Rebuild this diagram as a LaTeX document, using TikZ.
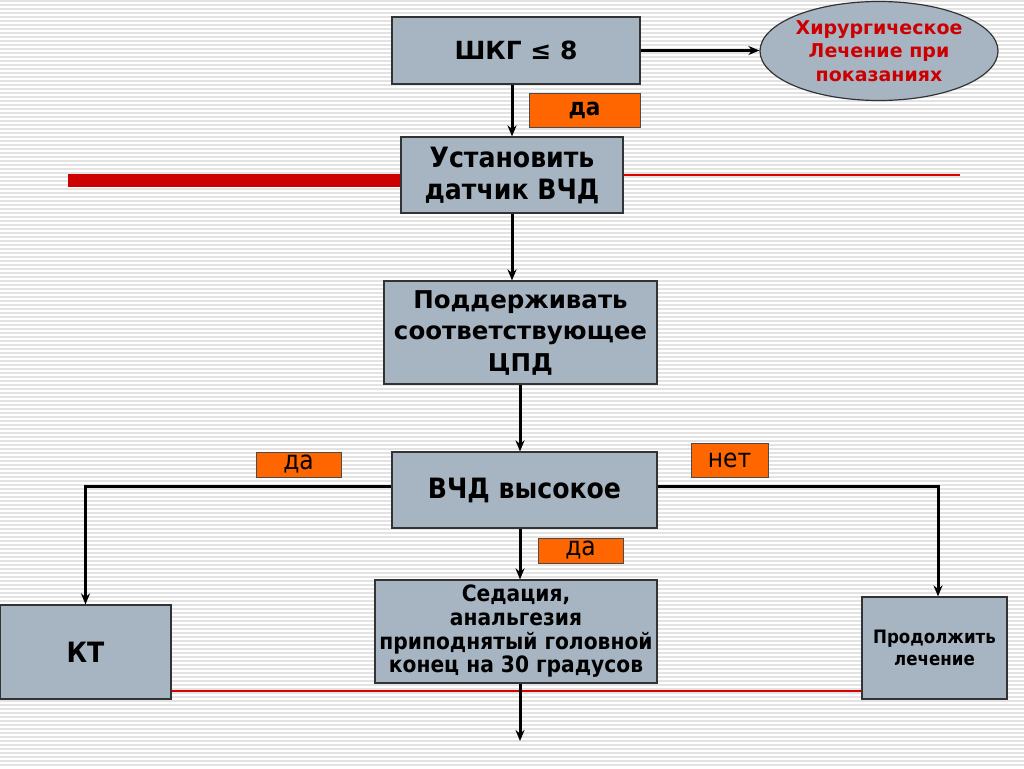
\documentclass[tikz,border=0pt]{standalone}
\usepackage{fontspec}
\setmainfont{DejaVu Sans}
\newfontfamily\condf{DejaVu Sans Condensed}
\usetikzlibrary{shapes.geometric,arrows.meta}
\definecolor{boxfill}{HTML}{A7B5C3}
\definecolor{orng}{HTML}{FF6600}
\definecolor{redd}{HTML}{CC0000}
\tikzset{
  box/.style={draw=black!80, line width=1.2pt, fill=boxfill, align=center, inner sep=0pt},
  tag/.style={draw=black!70, line width=1pt, fill=orng, inner sep=0pt, font=\condf\fontsize{26}{28}\selectfont},
  conn/.style={line width=3pt, -{Stealth[length=11pt,width=9pt]}},
}
\begin{document}
\begin{tikzpicture}[x=1pt,y=-1pt]
\useasboundingbox (0,0) rectangle (1024,768);
\fill[white] (0,0) rectangle (1024,768);
\foreach \i in {1,5,...,768} \draw[black!11, line width=2pt] (0,\i) -- (1024,\i);
% red lines
\fill[redd] (68,174) rectangle (401,187);
\draw[red!85!black, line width=1.3pt] (623,175) -- (960,175);
\draw[red!85!black, line width=1.3pt] (171,691) -- (862,691);
% nodes
\node[box, minimum width=248pt, minimum height=67pt, font=\bfseries\fontsize{25}{29}\selectfont] (shkg) at (516,50.5) {ШКГ ≤ 8};
\node[ellipse, draw=black!80, line width=1.2pt, fill=boxfill, minimum width=238pt, minimum height=99pt, inner sep=0pt, align=center, text=redd, font=\bfseries\fontsize{19}{23.5}\selectfont] (surg) at (879,51) {Хирургическое\\Лечение при\\показаниях};
\node[box, minimum width=222pt, minimum height=76pt, font=\condf\bfseries\fontsize{28}{32}\selectfont] (sensor) at (512,175) {Установить\\датчик ВЧД};
\node[box, minimum width=273pt, minimum height=103pt, font=\bfseries\fontsize{24.5}{31.5}\selectfont] (cpd) at (520.5,332.5) {Поддерживать\\соответствующее\\ЦПД};
\node[box, minimum width=265pt, minimum height=76pt, font=\condf\bfseries\fontsize{28}{32}\selectfont] (icp) at (524.5,490) {ВЧД высокое};
\node[box, minimum width=282pt, minimum height=103pt, font=\condf\bfseries\fontsize{22.5}{23.7}\selectfont] (sed) at (516,631.5) {Седация,\\анальгезия\\приподнятый головной\\конец на 30 градусов};
\node[box, minimum width=171pt, minimum height=94pt, font=\condf\bfseries\fontsize{28}{30}\selectfont] (kt) at (85.5,652) {КТ};
\node[box, minimum width=145pt, minimum height=102pt, font=\condf\bfseries\fontsize{18.5}{22}\selectfont] (cont) at (934.5,648) {Продолжить\\лечение};
% tags
\node[tag, minimum width=111pt, minimum height=34pt, font=\condf\bfseries\fontsize{24}{26}\selectfont] (t1) at (584.5,110) {да};
\node[tag, minimum width=85pt, minimum height=25pt] (t2) at (298.5,464.5) {да};
\node[tag, minimum width=77pt, minimum height=34pt] (t3) at (729.5,460) {нет};
\node[tag, minimum width=85pt, minimum height=25pt] (t4) at (580.5,550.5) {да};
% connectors
\coordinate (endp) at (520,741);
\draw[conn] (shkg.east) -- (shkg.east -| surg.west);
\draw[conn] (shkg.south -| 512,0) -- (sensor.north -| 512,0);
\draw[conn] (sensor.south -| 512,0) -- (cpd.north -| 512,0);
\draw[conn] (cpd.south -| 520,0) -- (icp.north -| 520,0);
\draw[conn] (icp.west |- 0,486) -| (kt.north);
\draw[conn] (icp.east |- 0,486) -| (cont.north -| 938,0);
\draw[conn] (icp.south -| 520,0) -- (sed.north -| 520,0);
\draw[conn] (sed.south -| 520,0) -- (endp);
\end{tikzpicture}
\end{document}
